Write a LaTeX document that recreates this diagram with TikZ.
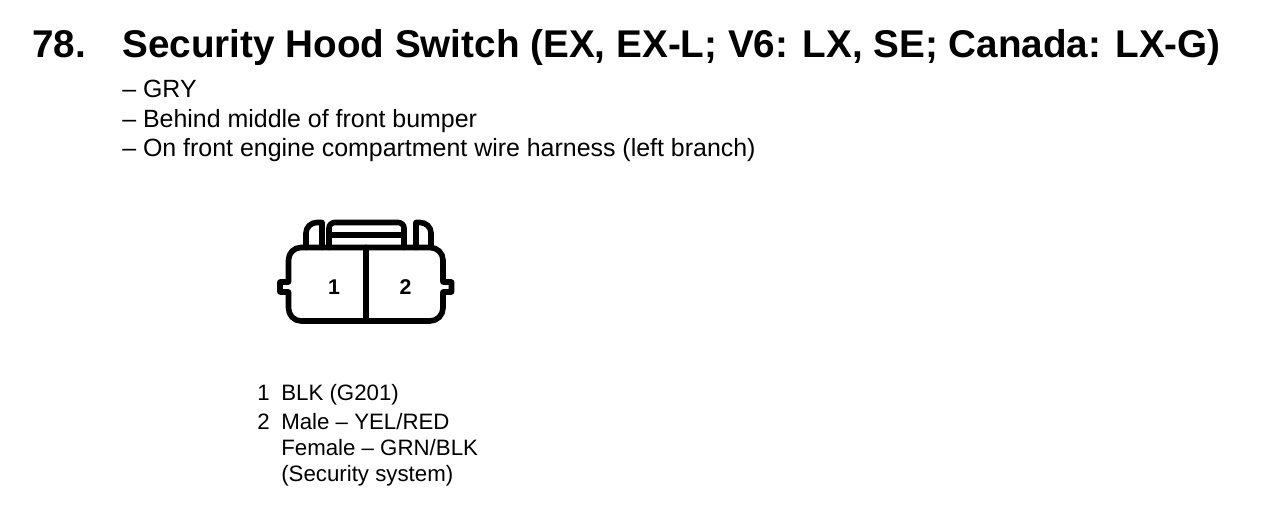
\documentclass[tikz,border=0pt]{standalone}
\usepackage{fontspec}
\setmainfont{Liberation Sans}
\tikzstyle{heading} = [anchor=base west, inner sep=0pt, font=\bfseries\fontsize{29}{30}\selectfont]
\tikzstyle{note} = [anchor=base west, inner sep=0pt, font=\fontsize{18.7}{20}\selectfont]
\tikzstyle{wire} = [anchor=base west, inner sep=0pt, font=\fontsize{16.7}{18}\selectfont]
\tikzstyle{pin} = [inner sep=0pt, font=\bfseries\fontsize{16}{18}\selectfont]
\tikzstyle{outline} = [draw, line width=4.2pt, line join=round, line cap=round]

\begin{document}
\begin{tikzpicture}[x=0.75pt, y=-0.75pt]
\useasboundingbox (0,0) rectangle (1264,530);
\node[heading] (number) at (32,58) {78.};
\node[heading] (title) at (122,58) {Security Hood Switch (EX, EX-L; V6: LX, SE; Canada: LX-G)};
\node[note] (color) at (122,98) {– GRY};
\node[note] (place) at (122,128) {– Behind middle of front bumper};
\node[note] (harness) at (122,157) {– On front engine compartment wire harness (left branch)};
% connector
\draw[outline] (301,247.5) -- (430,247.5) to[out=0,in=90] (443,260) -- (443,282) -- (451.5,282)
    -- (451.5,292) -- (443,292) -- (443,308) to[out=-90,in=0] (430,321) -- (301,321)
    to[out=180,in=-90] (288.5,308) -- (288.5,292) -- (280,292) -- (280,282) -- (288.5,282)
    -- (288.5,260) to[out=90,in=180] cycle;
\draw[outline] (366,247.5) -- (366,321);
% clip and side tabs
\draw[outline] (329,247.5) -- (329,228) to[out=90,in=180] (335,222.5) -- (398,222.5)
    to[out=0,in=90] (404,228) -- (404,247.5);
\draw[outline] (329,235) -- (404,235);
\draw[outline] (306,247.5) -- (306,233) to[out=90,in=180] (317,222.5) -- (322,222.5) -- (322,247.5);
\draw[outline] (416,247.5) -- (416,222.5) -- (420,222.5) to[out=0,in=90] (431,233) -- (431,247.5);
\node[pin] (pin1) at (334,287.5) {1};
\node[pin] (pin2) at (405.5,287.5) {2};
\node[wire] (num1) at (257,401) {1};
\node[wire] (blk) at (281,401) {BLK (G201)};
\node[wire] (num2) at (257,430) {2};
\node[wire] (male) at (281,430) {Male – YEL/RED};
\node[wire] (female) at (281,456) {Female – GRN/BLK};
\node[wire] (system) at (281,482) {(Security system)};
\end{tikzpicture}
\end{document}
